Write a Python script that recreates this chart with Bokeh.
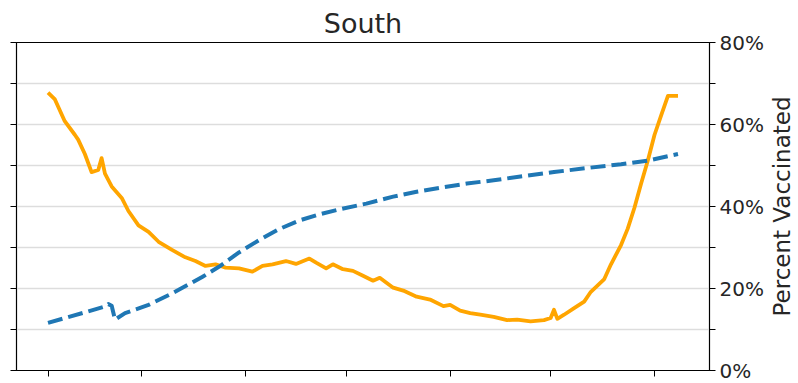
import pandas as pd
from bokeh.plotting import figure
from bokeh.layouts import row
from bokeh.models import (Range1d, LinearAxis, FixedTicker, ColumnDataSource,
                          PrintfTickFormatter, CustomJSTickFormatter, Title)
from bokeh.embed import file_html
from bokeh.resources import INLINE

# ---- data ----
case_dates = ["2021-02-01", "2021-02-03", "2021-02-06", "2021-02-09", "2021-02-10", "2021-02-12",
              "2021-02-14", "2021-02-16", "2021-02-17", "2021-02-18", "2021-02-20", "2021-02-23",
              "2021-02-25", "2021-02-28", "2021-03-03", "2021-03-06", "2021-03-10", "2021-03-14",
              "2021-03-17", "2021-03-20", "2021-03-23", "2021-03-26", "2021-03-30", "2021-04-03",
              "2021-04-06", "2021-04-09", "2021-04-13", "2021-04-16", "2021-04-20", "2021-04-22",
              "2021-04-25", "2021-04-27", "2021-04-30", "2021-05-03", "2021-05-06", "2021-05-09",
              "2021-05-11", "2021-05-15", "2021-05-18", "2021-05-22", "2021-05-26", "2021-05-30",
              "2021-06-01", "2021-06-04", "2021-06-07", "2021-06-10", "2021-06-14", "2021-06-18",
              "2021-06-21", "2021-06-25", "2021-06-29", "2021-07-01", "2021-07-02", "2021-07-03",
              "2021-07-05", "2021-07-08", "2021-07-11", "2021-07-13", "2021-07-17", "2021-07-19",
              "2021-07-22", "2021-07-24", "2021-07-26", "2021-07-28", "2021-07-30", "2021-08-01",
              "2021-08-03", "2021-08-05", "2021-08-08"]
case_values = [67.8, 66.2, 60.8, 57.5, 56.3, 52.8,
               48.4, 48.9, 51.8, 48.0, 44.9, 42.1,
               38.9, 35.4, 33.8, 31.4, 29.4, 27.6,
               26.7, 25.5, 25.9, 25.1, 24.9, 24.1,
               25.5, 25.9, 26.7, 26.0, 27.3, 26.3,
               24.9, 25.9, 24.7, 24.3, 23.1, 21.9,
               22.6, 20.2, 19.5, 18.0, 17.3, 15.7,
               16.0, 14.6, 14.0, 13.6, 13.1, 12.3,
               12.4, 12.0, 12.3, 12.8, 14.8, 12.6,
               13.6, 15.2, 16.8, 19.2, 22.3, 25.9,
               30.6, 34.6, 39.7, 45.6, 51.2, 57.5,
               62.3, 67.0, 67.0]

vacc_dates = ["2021-02-01", "2021-02-18", "2021-02-19", "2021-02-20", "2021-02-21", "2021-02-24",
              "2021-03-03", "2021-03-10", "2021-03-15", "2021-03-19", "2021-03-24", "2021-03-30",
              "2021-04-05", "2021-04-11", "2021-04-17", "2021-04-23", "2021-04-29", "2021-05-07",
              "2021-05-15", "2021-05-22", "2021-05-30", "2021-06-06", "2021-06-14", "2021-06-22",
              "2021-07-02", "2021-07-12", "2021-07-22", "2021-07-30", "2021-08-08"]
vacc_pct = [11.6, 15.6, 16.2, 15.8, 12.4, 14.0,
            16.0, 18.8, 21.0, 22.8, 25.3, 28.8,
            31.8, 34.5, 36.6, 38.1, 39.3, 40.7,
            42.4, 43.6, 44.7, 45.6, 46.4, 47.3,
            48.4, 49.4, 50.3, 51.2, 52.8]

month_ticks = ["2021-02-01", "2021-03-01", "2021-04-01", "2021-05-01",
               "2021-06-01", "2021-07-01", "2021-08-01"]
pct_major = [0, 20, 40, 60, 80]
pct_minor = [10, 30, 50, 70]
left_ticks = [0, 10, 20, 30, 40, 50, 60, 70, 80]

title_text = "South"
right_label = "Percent Vaccinated"

# ---- build ----
TEXT = "#262626"
FONT = "DejaVu Sans"
TOP, BOTTOM = 42, 13

cases = ColumnDataSource(dict(x=pd.to_datetime(case_dates), y=case_values))
vacc = ColumnDataSource(dict(x=pd.to_datetime(vacc_dates), y=vacc_pct))

all_dates = pd.to_datetime(case_dates + vacc_dates)
x0, x1 = all_dates.min(), all_dates.max()
pad = (x1 - x0) * 0.05

p = figure(width=766, height=383, x_axis_type="datetime",
           x_range=Range1d(x0 - pad, x1 + pad), y_range=Range1d(0, 80),
           output_backend="svg", toolbar_location=None, min_border=0)
p.min_border_left = 16
p.min_border_right = 55
p.min_border_bottom = BOTTOM
p.extra_y_ranges = {"pct": Range1d(0, 80)}

p.title.text = title_text
p.title.align = "center"
p.title.text_font = FONT
p.title.text_font_size = "27px"
p.title.text_font_style = "normal"
p.title.text_color = TEXT
p.title.standoff = 8

p.outline_line_color = "black"
p.outline_line_alpha = 1
p.outline_line_width = 1.2
p.background_fill_color = "white"
p.border_fill_color = "white"

p.xgrid.visible = False
p.ygrid.grid_line_color = "#dddddd"
p.ygrid.grid_line_width = 1.3
p.ygrid.ticker = FixedTicker(ticks=left_ticks[1:-1])

blank = CustomJSTickFormatter(code="return ''")

# bottom axis: ticks only (labels cropped in reference)
xa = p.xaxis[0]
xa.ticker = FixedTicker(ticks=[t.value // 10**6 for t in pd.to_datetime(month_ticks)])
xa.formatter = blank
xa.major_label_standoff = 0
xa.major_tick_out = 6
xa.major_tick_in = 0
xa.minor_tick_out = 0
xa.minor_tick_in = 0
xa.axis_line_color = "black"
xa.major_tick_line_color = "black"

# left axis: ticks only
ya = p.yaxis[0]
ya.ticker = FixedTicker(ticks=left_ticks)
ya.formatter = blank
ya.major_label_standoff = 0
ya.major_tick_out = 6
ya.major_tick_in = 0
ya.minor_tick_out = 0
ya.minor_tick_in = 0
ya.axis_line_color = "black"
ya.major_tick_line_color = "black"

# right axis
ra = LinearAxis(y_range_name="pct",
                ticker=FixedTicker(ticks=pct_major, minor_ticks=pct_minor),
                formatter=PrintfTickFormatter(format="%d%%"))
ra.major_label_text_font = FONT
ra.major_label_text_font_size = "20px"
ra.major_label_text_color = TEXT
ra.major_label_standoff = 4
ra.major_tick_out = 6
ra.major_tick_in = 0
ra.minor_tick_out = 6
ra.minor_tick_in = 0
ra.axis_line_color = "black"
ra.major_tick_line_color = "black"
ra.minor_tick_line_color = "black"
p.add_layout(ra, "right")

p.line("x", "y", source=cases, color="#FFA500", line_width=3.8, line_join="round")
p.line("x", "y", source=vacc, y_range_name="pct", color="#1f77b4", line_width=4,
       line_dash="15 6", line_join="round")

# narrow companion figure that carries the right-hand axis title (reads bottom to top)
lab = figure(width=32, height=383, output_backend="svg", toolbar_location=None,
             min_border=0, x_axis_location=None, y_axis_location=None)
lab.min_border_top = TOP
lab.min_border_bottom = 0
lab.outline_line_color = None
lab.grid.visible = False
lab.background_fill_color = "white"
lab.border_fill_color = "white"
lab.add_layout(Title(text=right_label, align="center", text_font=FONT,
                     text_font_size="23px", text_font_style="normal",
                     text_color=TEXT, standoff=0), "left")

layout = row(p, lab, spacing=0)
open("out.html", "w").write(file_html(layout, INLINE))
